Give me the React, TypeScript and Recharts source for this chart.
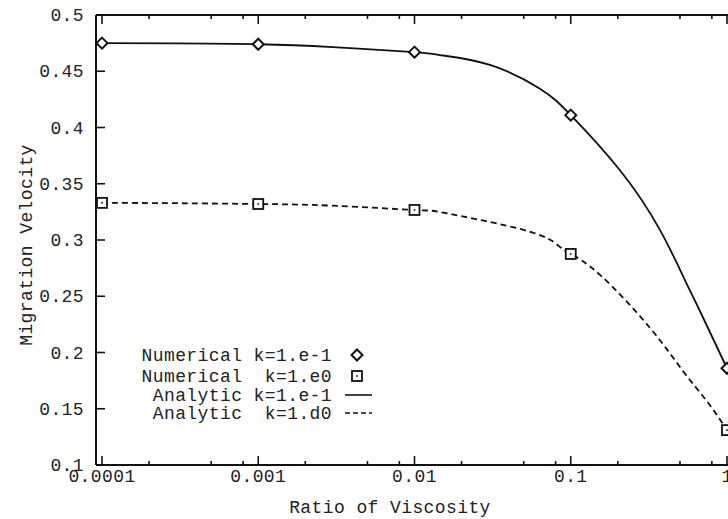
import React from 'react';
import { ComposedChart, Line, Scatter, XAxis, YAxis, Customized } from 'recharts';

// ---- data ----
const xMajorTicks = [0.0001, 0.001, 0.01, 0.1, 1];
const xMajorLabels = ['0.0001', '0.001', '0.01', '0.1', '1'];
const xMinorSteps = [2, 5, 8];
const yTicks = [0.1, 0.15, 0.2, 0.25, 0.3, 0.35, 0.4, 0.45, 0.5];
const yTickLabels = ['0.1', '0.15', '0.2', '0.25', '0.3', '0.35', '0.4', '0.45', '0.5'];

const numX = [0.0001, 0.001, 0.01, 0.1, 1];
const numK01 = [0.475, 0.474, 0.467, 0.411, 0.186];
const numK1 = [0.333, 0.332, 0.3267, 0.2876, 0.131];

const anaK01X = [0.0001, 0.0003, 0.001, 0.003, 0.01, 0.01455, 0.0304, 0.0635, 0.1, 0.2065, 0.372, 0.538, 0.671, 1];
const anaK01Y = [0.475, 0.4747, 0.474, 0.4715, 0.467, 0.4644, 0.4556, 0.4345, 0.411, 0.362, 0.309, 0.2644, 0.2369, 0.186];
const anaK1X = [0.0001, 0.0003, 0.001, 0.003, 0.01, 0.01455, 0.0304, 0.0635, 0.0853, 0.1, 0.154, 0.321, 0.522, 0.75, 1];
const anaK1Y = [0.333, 0.3327, 0.332, 0.3305, 0.3267, 0.3249, 0.316, 0.3044, 0.2938, 0.2876, 0.269, 0.222, 0.1836, 0.156, 0.131];

const legendLabels = ['Numerical k=1.e-1', 'Numerical  k=1.e0', 'Analytic k=1.e-1', 'Analytic  k=1.d0'];
const xTitle = 'Ratio of Viscosity';
const yTitle = 'Migration Velocity';

// ---- built tables ----
const xTicks: number[] = [];
xMajorTicks.forEach((m, i) => {
  xTicks.push(m);
  if (i < xMajorTicks.length - 1) xMinorSteps.forEach((s) => xTicks.push(+(m * s).toPrecision(6)));
});
const numK01Data = numX.map((x, i) => ({ x, y: numK01[i] }));
const numK1Data = numX.map((x, i) => ({ x, y: numK1[i] }));
const anaK01Data = anaK01X.map((x, i) => ({ x, y: anaK01Y[i] }));
const anaK1Data = anaK1X.map((x, i) => ({ x, y: anaK1Y[i] }));

// ---- layout ----
const W = 760;
const H = 519;
const PL = 96;
const RW = 22;
const PR = W - RW;
const PT = 15;
const XH = 54;
const PB = H - XH;
const X_MIN = Math.pow(10, -4.0384);
const X_MAX = Math.pow(10, 0.0704);

const FONT = "'Liberation Mono', 'DejaVu Sans Mono', monospace";
const FS = 18;
const LS = 0.4;
const INK = '#111';
const TXT = '#222';

const majorIndex = (v: number) => xMajorTicks.findIndex((m) => Math.abs(m - v) / m < 1e-6);

const BottomTick = (props: any) => {
  const { x, payload } = props;
  const idx = majorIndex(payload.value);
  const major = idx >= 0;
  return (
    <g>
      <line x1={x} x2={x} y1={PB} y2={PB - (major ? 9 : 4)} stroke={INK} strokeWidth={1.6} />
      {major && (
        <text x={x} y={PB + 17} textAnchor="middle" fontFamily={FONT} fontSize={FS} letterSpacing={LS} fill={TXT}>
          {xMajorLabels[idx]}
        </text>
      )}
    </g>
  );
};

const TopTick = (props: any) => {
  const { x, payload } = props;
  const major = majorIndex(payload.value) >= 0;
  return <line x1={x} x2={x} y1={PT} y2={PT + (major ? 9 : 4)} stroke={INK} strokeWidth={1.6} />;
};

const LeftTick = (props: any) => {
  const { y, payload } = props;
  const idx = yTicks.findIndex((t) => Math.abs(t - payload.value) < 1e-9);
  return (
    <g>
      <line x1={PL} x2={PL + 9} y1={y} y2={y} stroke={INK} strokeWidth={1.6} />
      <text x={84} y={y + 6} textAnchor="end" fontFamily={FONT} fontSize={FS} letterSpacing={LS} fill={TXT}>
        {idx >= 0 ? yTickLabels[idx] : ''}
      </text>
    </g>
  );
};

const RightTick = (props: any) => {
  const { y } = props;
  return <line x1={PR} x2={PR - 9} y1={y} y2={y} stroke={INK} strokeWidth={1.6} />;
};

const Diamond = (props: any) => {
  const { cx, cy } = props;
  if (cx == null || cy == null) return <g />;
  const r = 5.5;
  return (
    <polygon
      points={`${cx},${cy - r} ${cx + r},${cy} ${cx},${cy + r} ${cx - r},${cy}`}
      fill="#fff"
      stroke={INK}
      strokeWidth={2}
    />
  );
};

const Square = (props: any) => {
  const { cx, cy } = props;
  if (cx == null || cy == null) return <g />;
  const r = 5;
  return (
    <g>
      <rect x={cx - r} y={cy - r} width={2 * r} height={2 * r} fill="#fff" stroke={INK} strokeWidth={1.8} />
      <rect x={cx - 0.8} y={cy - 0.8} width={1.6} height={1.6} fill={INK} />
    </g>
  );
};

const Overlay = () => {
  const rows = [355, 376, 395, 413];
  const textStyle: any = { whiteSpace: 'pre' };
  return (
    <g>
      {legendLabels.map((t, i) => (
        <text
          key={t}
          x={332}
          y={rows[i] + 6}
          textAnchor="end"
          fontFamily={FONT}
          fontSize={FS}
          letterSpacing={LS}
          fill={TXT}
          style={textStyle}
        >
          {t}
        </text>
      ))}
      <Diamond cx={357} cy={rows[0]} />
      <Square cx={357} cy={rows[1]} />
      <line x1={345} x2={372} y1={rows[2]} y2={rows[2]} stroke={INK} strokeWidth={1.6} />
      <line x1={345} x2={372} y1={rows[3]} y2={rows[3]} stroke={INK} strokeWidth={1.6} strokeDasharray="5 3" />
      <text x={390} y={513} textAnchor="middle" fontFamily={FONT} fontSize={FS} letterSpacing={LS} fill={TXT}>
        {xTitle}
      </text>
      <text
        x={0}
        y={0}
        transform={`translate(32, 245) rotate(-90)`}
        textAnchor="middle"
        fontFamily={FONT}
        fontSize={FS}
        letterSpacing={LS}
        fill={TXT}
      >
        {yTitle}
      </text>
    </g>
  );
};

export default function App() {
  const axisLine = { stroke: INK, strokeWidth: 2 };
  return (
    <div style={{ position: 'absolute', left: 0, top: 0, width: 728, height: 519, overflow: 'hidden', background: '#fff' }}>
      <ComposedChart width={W} height={H} margin={{ top: 0, right: 0, bottom: 0, left: 0 }}>
        <XAxis
          xAxisId="b"
          dataKey="x"
          type="number"
          scale="log"
          domain={[X_MIN, X_MAX]}
          allowDataOverflow
          ticks={xTicks}
          interval={0}
          height={XH}
          axisLine={axisLine}
          tickLine={false}
          tick={BottomTick}
        />
        <XAxis
          xAxisId="t"
          orientation="top"
          dataKey="x"
          type="number"
          scale="log"
          domain={[X_MIN, X_MAX]}
          allowDataOverflow
          ticks={xTicks}
          interval={0}
          height={PT}
          axisLine={axisLine}
          tickLine={false}
          tick={TopTick}
        />
        <YAxis
          yAxisId="l"
          type="number"
          domain={[0.1, 0.5]}
          ticks={yTicks}
          interval={0}
          width={PL}
          axisLine={axisLine}
          tickLine={false}
          tick={LeftTick}
        />
        <YAxis
          yAxisId="r"
          orientation="right"
          type="number"
          domain={[0.1, 0.5]}
          ticks={yTicks}
          interval={0}
          width={RW}
          axisLine={axisLine}
          tickLine={false}
          tick={RightTick}
        />
        <Line
          xAxisId="b"
          yAxisId="l"
          data={anaK01Data}
          dataKey="y"
          type="natural"
          stroke={INK}
          strokeWidth={1.8}
          dot={false}
          isAnimationActive={false}
        />
        <Line
          xAxisId="b"
          yAxisId="l"
          data={anaK1Data}
          dataKey="y"
          type="natural"
          stroke={INK}
          strokeWidth={1.8}
          strokeDasharray="6 4"
          dot={false}
          isAnimationActive={false}
        />
        <Scatter xAxisId="b" yAxisId="l" data={numK01Data} dataKey="y" shape={Diamond} isAnimationActive={false} />
        <Scatter xAxisId="b" yAxisId="l" data={numK1Data} dataKey="y" shape={Square} isAnimationActive={false} />
        <Customized component={Overlay} />
      </ComposedChart>
    </div>
  );
}
